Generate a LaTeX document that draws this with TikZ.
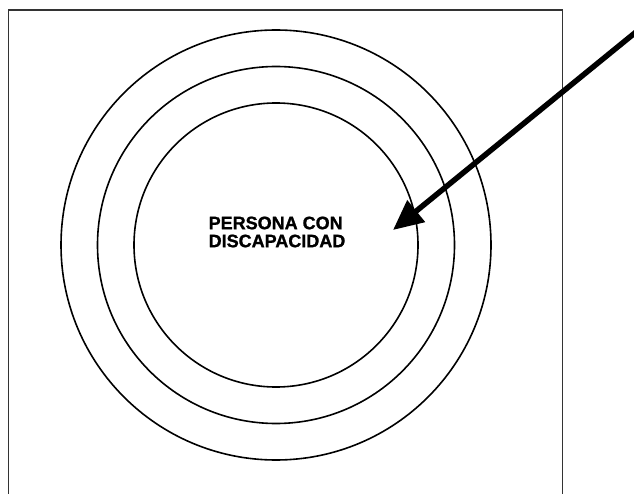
\documentclass[tikz,border=0pt]{standalone}
\usepackage{fontspec}
\setmainfont{Liberation Sans}[BoldFeatures={FakeBold=1.2}]
\usetikzlibrary{arrows.meta}
\begin{document}
\begin{tikzpicture}[x=1pt,y=-1pt,
  ring/.style={circle,draw=black,line width=1.6pt,inner sep=0pt,minimum size=#1},
  frame/.style={draw=black!80,line width=1.3pt},
  bigarrow/.style={line width=5.5pt,-{Triangle[length=30pt,width=27pt]}},
  label/.style={font=\fontsize{18}{18}\selectfont\bfseries,align=left,inner sep=0pt}]
\useasboundingbox (0,0) rectangle (634,494);
\draw[frame] (8.5,495) -- (8.5,10) -- (562.5,10) -- (562.5,495);
\node[ring=430pt] (outer) at (276,245) {};
\node[ring=357pt] (middle) at (276,245) {};
\node[ring=284pt] (inner) at (276,245) {};
\node[label] (txt) at (277,232) {PERSONA CON\\DISCAPACIDAD};
\coordinate (start) at (636,32);
\coordinate (tip) at (393,230);
\draw[bigarrow] (start) -- (tip);
\end{tikzpicture}
\end{document}
